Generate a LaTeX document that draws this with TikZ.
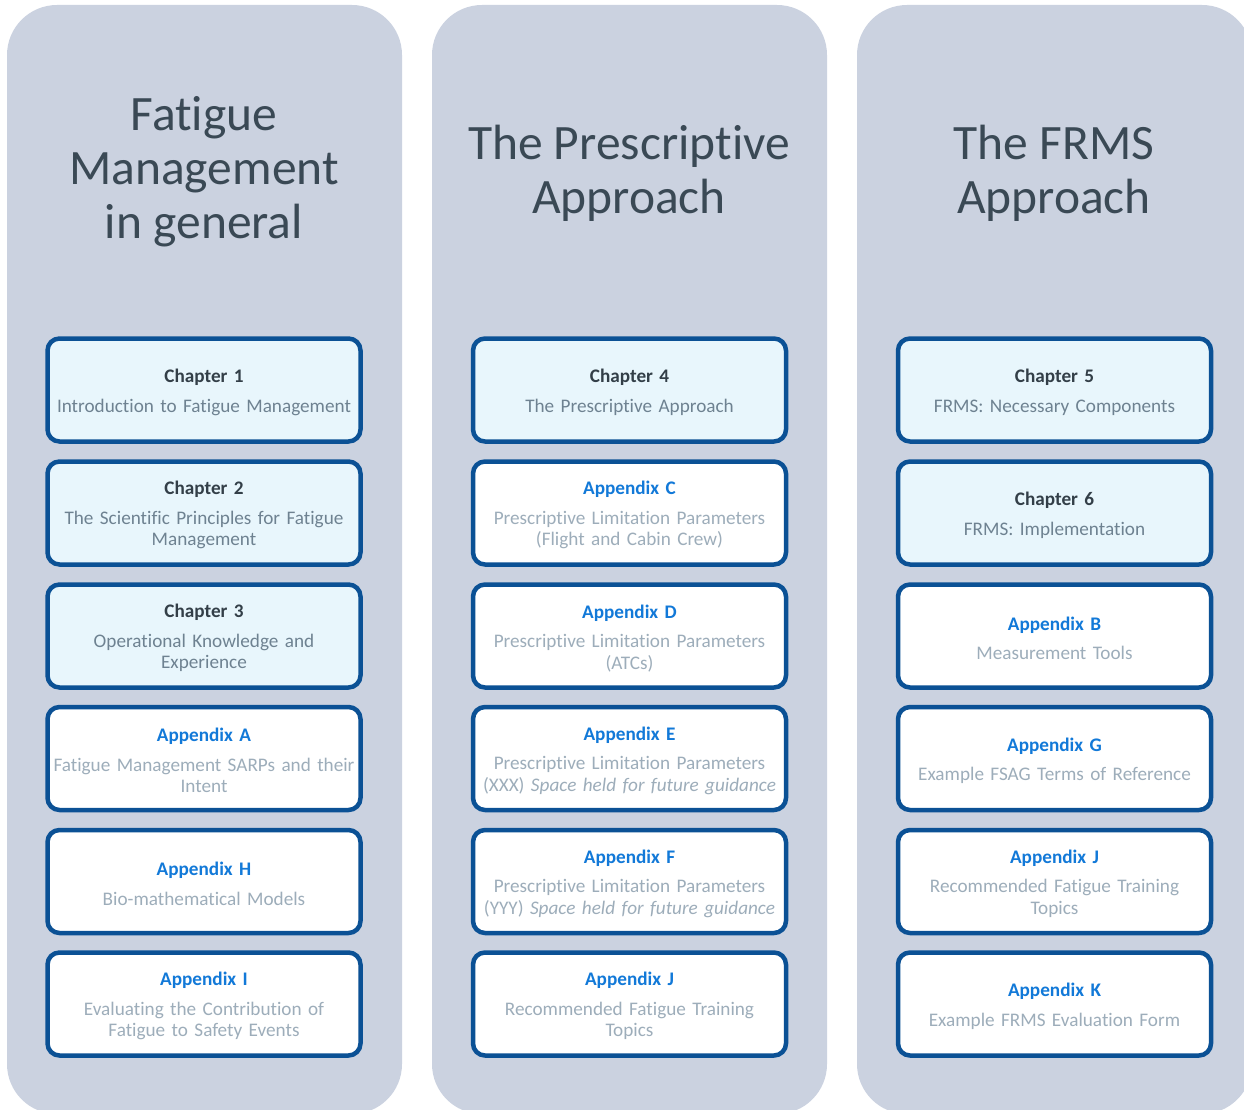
\documentclass[tikz,border=0pt]{standalone}
\usepackage{fontspec}
\setmainfont{Carlito}[Ligatures=NoCommon]
\usepackage{xcolor}
\definecolor{colbg}{HTML}{CBD2E0}
\definecolor{headtxt}{HTML}{3A4955}
\definecolor{boxline}{HTML}{0B5195}
\definecolor{chapfill}{HTML}{E8F6FC}
\definecolor{chaptxt}{HTML}{333F48}
\definecolor{chapdesc}{HTML}{6E8291}
\definecolor{applbl}{HTML}{1279D8}
\definecolor{appdesc}{HTML}{9DADBA}
\newcommand{\chaphead}[1]{\rule{0pt}{18pt}{\color{chaptxt}\bfseries #1}\\[8pt]}
\newcommand{\apphead}[1]{\rule{0pt}{18pt}{\color{applbl}\bfseries #1}\\[8pt]}

\begin{document}
\begin{tikzpicture}
    [line join=round,x=1pt,y=-1pt,
     heading/.style={text=headtxt,align=center,font=\fontsize{49.5}{54}\selectfont},
     chapbox/.style={draw=boxline,line width=4.5pt,fill=chapfill,rounded corners=12pt,
        minimum width=313pt,minimum height=103pt,text width=313pt,inner sep=0pt,
        align=center,text=chapdesc,font=\fontsize{19.2}{21.5}\selectfont},
     appbox/.style={chapbox,fill=white,text=appdesc}]
%page and the three columns
\clip (0,0) rectangle (1244,1110);
\fill[colbg,rounded corners=50pt] (7,5) rectangle (402,1114);
\fill[colbg,rounded corners=50pt] (432,5) rectangle (827,1114);
\fill[colbg,rounded corners=50pt] (857,5) rectangle (1252,1114);

%headings
\node[heading] (headgen) at (204,172) {Fatigue\\Management\\in general};
\node[heading] (headpre) at (629,173) {The Prescriptive\\Approach};
\node[heading] (headfrms) at (1054,173) {The FRMS\\Approach};

%first column
\node[chapbox] (chap1) at (204,390) {\chaphead{Chapter 1}Introduction to Fatigue Management};
\node[chapbox] (chap2) at (204,513) {\chaphead{Chapter 2}The Scientific Principles for Fatigue\\Management};
\node[chapbox] (chap3) at (204,636) {\chaphead{Chapter 3}Operational Knowledge and\\Experience};
\node[appbox] (appA) at (204,758.5) {\apphead{Appendix A}Fatigue Management SARPs and their\\Intent};
\node[appbox] (appH) at (204,881.5) {\apphead{Appendix H}Bio-mathematical Models};
\node[appbox] (appI) at (204,1004) {\apphead{Appendix I}Evaluating the Contribution of\\Fatigue to Safety Events};

%second column
\node[chapbox] (chap4) at (629.5,390) {\chaphead{Chapter 4}The Prescriptive Approach};
\node[appbox] (appC) at (629.5,513) {\apphead{Appendix C}Prescriptive Limitation Parameters\\(Flight and Cabin Crew)};
\node[appbox] (appD) at (629.5,636) {\apphead{Appendix D}Prescriptive Limitation Parameters\\(ATCs)};
\node[appbox] (appE) at (629.5,758.5) {\apphead{Appendix E}Prescriptive Limitation Parameters\\(XXX) \textit{Space held for future guidance}};
\node[appbox] (appF) at (629.5,881.5) {\apphead{Appendix F}Prescriptive Limitation Parameters\\(YYY) \textit{Space held for future guidance}};
\node[appbox] (appJa) at (629.5,1004) {\apphead{Appendix J}Recommended Fatigue Training\\Topics};

%third column
\node[chapbox] (chap5) at (1054.5,390) {\chaphead{Chapter 5}FRMS: Necessary Components};
\node[chapbox] (chap6) at (1054.5,513) {\chaphead{Chapter 6}FRMS: Implementation};
\node[appbox] (appB) at (1054.5,636) {\apphead{Appendix B}Measurement Tools};
\node[appbox] (appG) at (1054.5,758.5) {\apphead{Appendix G}Example FSAG Terms of Reference};
\node[appbox] (appJb) at (1054.5,881.5) {\apphead{Appendix J}Recommended Fatigue Training\\Topics};
\node[appbox] (appK) at (1054.5,1004) {\apphead{Appendix K}Example FRMS Evaluation Form};
\end{tikzpicture}
\end{document}
